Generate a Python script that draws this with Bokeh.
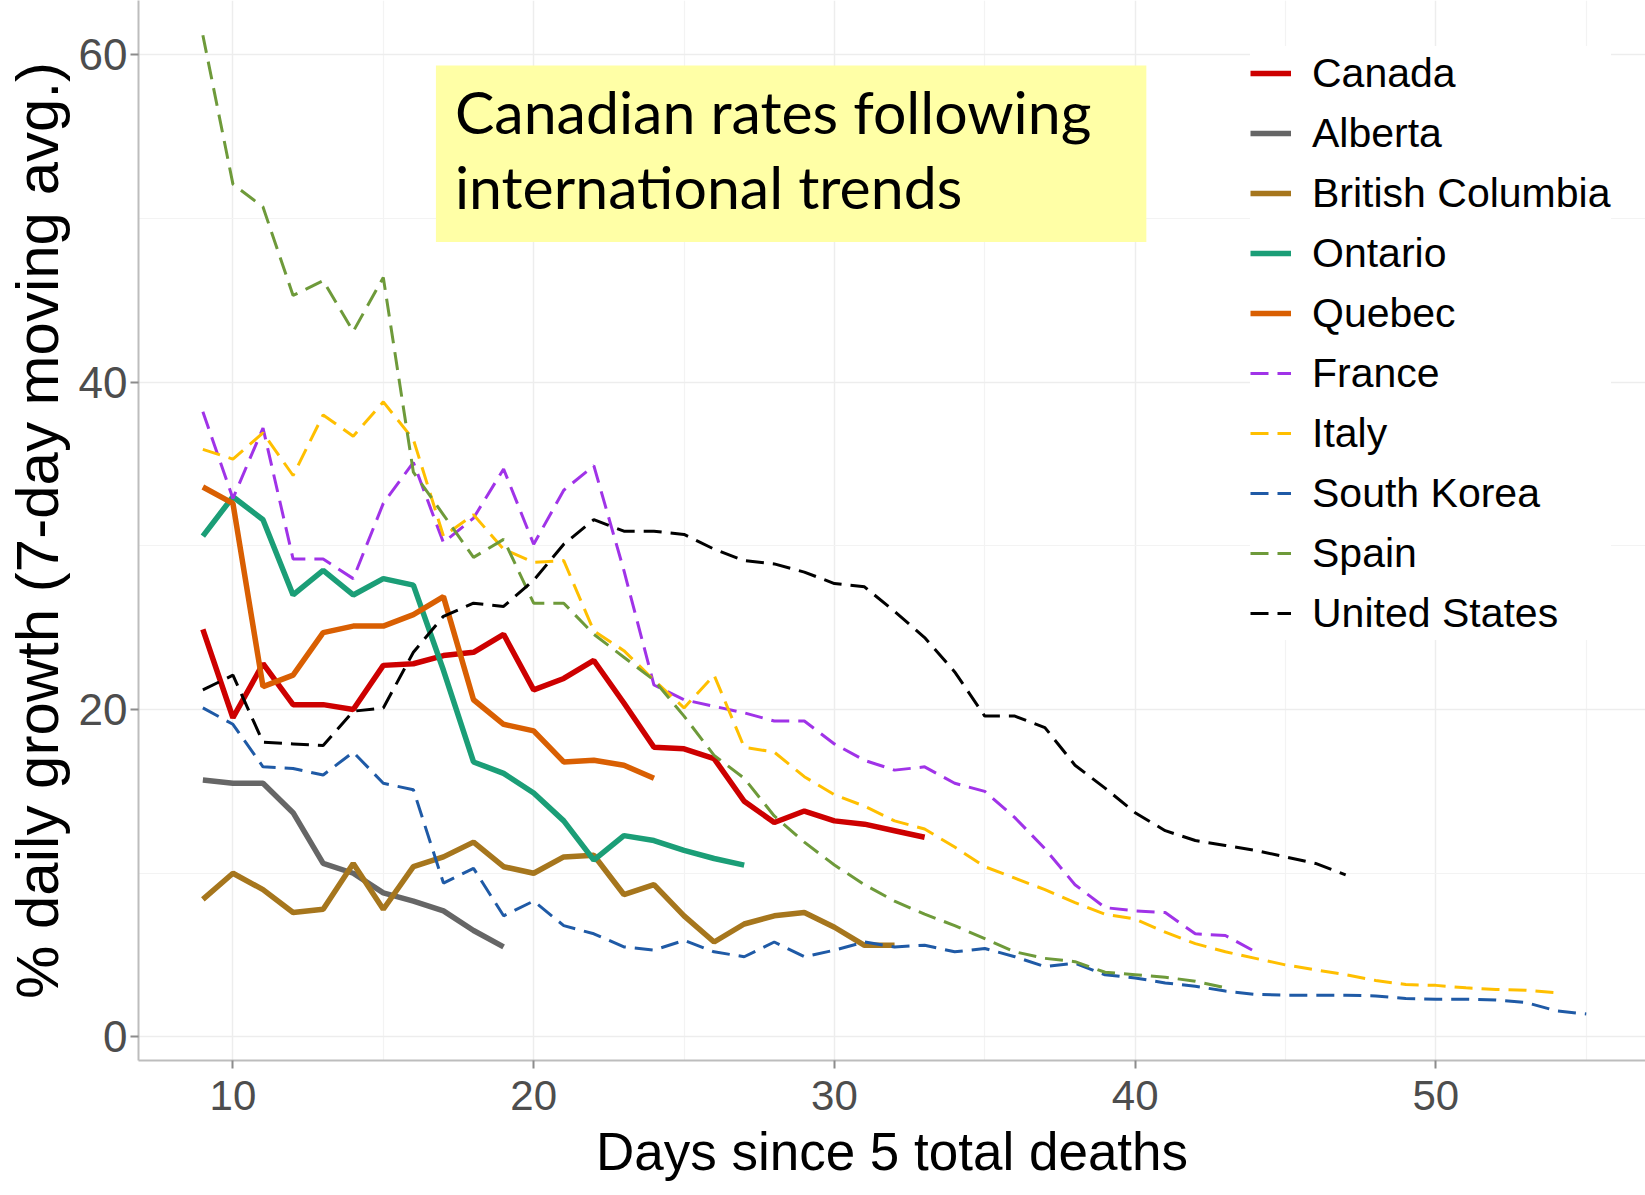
from bokeh.plotting import figure
from bokeh.models import FixedTicker, Label
from bokeh.embed import file_html
from bokeh.resources import INLINE

# ---- data (days since 5 total deaths start at day 9) ----
first_day = 9
canada = [24.9, 19.5, 22.8, 20.3, 20.3, 20.0, 22.7, 22.8, 23.3, 23.5, 24.6, 21.2, 21.9,
          23.0, 20.4, 17.7, 17.6, 17.0, 14.4, 13.1, 13.8, 13.2, 13.0, 12.6, 12.2]
alberta = [15.7, 15.5, 15.5, 13.7, 10.6, 10.0, 8.8, 8.3, 7.7, 6.5, 5.5]
british_columbia = [8.4, 10.0, 9.0, 7.6, 7.8, 10.6, 7.8, 10.4, 11.0, 11.9, 10.4, 10.0,
                    11.0, 11.1, 8.7, 9.3, 7.4, 5.8, 6.9, 7.4, 7.6, 6.7, 5.6, 5.6]
ontario = [30.6, 33.0, 31.6, 27.0, 28.5, 27.0, 28.0, 27.6, 22.4, 16.8, 16.1, 14.9, 13.2,
           10.8, 12.3, 12.0, 11.4, 10.9, 10.5]
quebec = [33.6, 32.6, 21.4, 22.1, 24.7, 25.1, 25.1, 25.8, 26.9, 20.6, 19.1, 18.7, 16.8,
          16.9, 16.6, 15.8]
france = [38.2, 32.9, 37.2, 29.2, 29.2, 28.0, 32.6, 35.1, 30.2, 31.7, 34.7, 30.1, 33.4,
          34.9, 28.5, 21.5, 20.6, 20.2, 19.8, 19.3, 19.3, 17.9, 16.9, 16.3, 16.5, 15.5,
          15.0, 13.4, 11.5, 9.3, 7.9, 7.7, 7.6, 6.3, 6.2, 5.2]
italy = [35.9, 35.3, 36.9, 34.3, 38.0, 36.7, 38.8, 36.5, 30.6, 31.9,
         29.8, 29.0, 29.1, 24.8, 23.6, 21.8, 20.1, 22.1, 17.7, 17.4,
         15.9, 14.8, 14.1, 13.2, 12.7, 11.6, 10.4, 9.7, 9.0, 8.2,
         7.5, 7.2, 6.4, 5.7, 5.2, 4.8, 4.4, 4.1, 3.8, 3.45,
         3.2, 3.15, 3.0, 2.9, 2.85, 2.7]
south_korea = [20.1, 19.1, 16.5, 16.4, 16.0, 17.4, 15.5, 15.1, 9.4, 10.3,
               7.4, 8.3, 6.8, 6.3, 5.5, 5.3, 5.9, 5.2, 4.9, 5.8,
               4.9, 5.3, 5.8, 5.5, 5.6, 5.2, 5.4, 4.9, 4.3, 4.5,
               3.8, 3.6, 3.3, 3.1, 2.8, 2.6, 2.55, 2.55, 2.55, 2.5,
               2.35, 2.3, 2.3, 2.25, 2.1, 1.6, 1.4]
spain = [61.2, 52.1, 50.7, 45.3, 46.2, 43.1, 46.4, 34.5, 31.9, 29.3,
         30.4, 26.5, 26.5, 24.6, 23.2, 21.8, 19.6, 17.2, 15.8, 13.5,
         11.9, 10.5, 9.3, 8.3, 7.5, 6.8, 6.0, 5.2, 4.8, 4.6,
         3.95, 3.8, 3.65, 3.4, 3.0]
united_states = [21.2, 22.1, 18.0, 17.9, 17.8, 19.9, 20.1, 23.5, 25.7, 26.5,
                 26.3, 27.9, 30.1, 31.6, 30.9, 30.9, 30.7, 29.8, 29.1, 28.9,
                 28.4, 27.7, 27.5, 26.0, 24.4, 22.3, 19.6, 19.6, 18.9, 16.6,
                 15.2, 13.7, 12.6, 12.0, 11.7, 11.4, 11.0, 10.6, 9.9]

names = ["Canada", "Alberta", "British Columbia", "Ontario", "Quebec",
         "France", "Italy", "South Korea", "Spain", "United States"]
values = [canada, alberta, british_columbia, ontario, quebec,
          france, italy, south_korea, spain, united_states]
colors = ["#CD0000", "#666666", "#A6761D", "#1B9E77", "#D95F02",
          "#A033E8", "#FFBF00", "#1F5AA6", "#6E9A3A", "#000000"]
solid = [True, True, True, True, True, False, False, False, False, False]

x_ticks = [10, 20, 30, 40, 50]
x_minor = [15, 25, 35, 45, 55]
y_ticks = [0, 20, 40, 60]
y_minor = [10, 30, 50]

p = figure(width=1645, height=1195, output_backend="svg", toolbar_location=None,
           x_range=(6.86, 56.97), y_range=(-1.44, 63.32),
           min_border_left=120, min_border_bottom=135, min_border_top=0,
           min_border_right=0)
p.outline_line_color = None
p.background_fill_color = "white"
p.border_fill_color = "white"

for name, vals, col, s in zip(names, values, colors, solid):
    xs = list(range(first_day, first_day + len(vals)))
    if s:
        p.line(xs, vals, line_color=col, line_width=5.5, legend_label=name)
    else:
        p.line(xs, vals, line_color=col, line_width=3, line_dash="18 9",
               legend_label=name)

# axes
p.xaxis.ticker = FixedTicker(ticks=x_ticks, minor_ticks=x_minor)
p.yaxis.ticker = FixedTicker(ticks=y_ticks, minor_ticks=y_minor)
for ax in (p.xaxis[0], p.yaxis[0]):
    ax.axis_line_color = "#BDBDBD"
    ax.axis_line_width = 2
    ax.major_tick_line_color = "#8C8C8C"
    ax.major_tick_line_width = 2
    ax.major_tick_out = 8
    ax.major_tick_in = 0
    ax.minor_tick_out = 0
    ax.minor_tick_in = 0
    ax.major_label_text_color = "#4D4D4D"
    ax.major_label_text_font = "Liberation Sans"
    ax.axis_label_text_color = "black"
    ax.axis_label_text_font_style = "normal"
    ax.axis_label_text_font = "Liberation Sans"
p.xaxis.major_label_text_font_size = "42px"
p.xaxis.major_label_standoff = 12
p.xaxis.axis_label_standoff = 9
p.yaxis.major_label_text_font_size = "44px"
p.yaxis.major_label_standoff = 3
p.yaxis.axis_label_standoff = 5
p.xaxis.axis_label = "Days since 5 total deaths"
p.xaxis.axis_label_text_font_size = "53px"
p.yaxis.axis_label = "% daily growth (7-day moving avg.)"
p.yaxis.axis_label_text_font_size = "60px"

# grid
for g in (p.xgrid[0], p.ygrid[0]):
    g.grid_line_color = "#EDEDED"
    g.grid_line_width = 1.5
    g.minor_grid_line_color = "#F3F3F3"
    g.minor_grid_line_width = 1.2

# annotation box (anchored at its top-left corner)
note = Label(x=16.75, y=59.35, text="Canadian rates following\ninternational trends",
             text_font="Lato", text_font_size="59px", text_color="black",
             text_align="left", text_baseline="top", text_line_height=1.05,
             background_fill_color="#FFFFA6", background_fill_alpha=1.0,
             padding=(19, 55, 11, 20))
p.add_layout(note)

# legend
lg = p.legend[0]
lg.location = (1112, 420)
lg.label_text_font = "Liberation Sans"
lg.label_text_font_size = "41px"
lg.label_text_color = "black"
lg.glyph_width = 41
lg.glyph_height = 54
lg.label_height = 54
lg.spacing = 6
lg.label_standoff = 21
lg.padding = 40
lg.margin = 0
lg.border_line_color = None
lg.background_fill_color = "white"
lg.background_fill_alpha = 1.0

open("out.html", "w").write(file_html(p, INLINE))
